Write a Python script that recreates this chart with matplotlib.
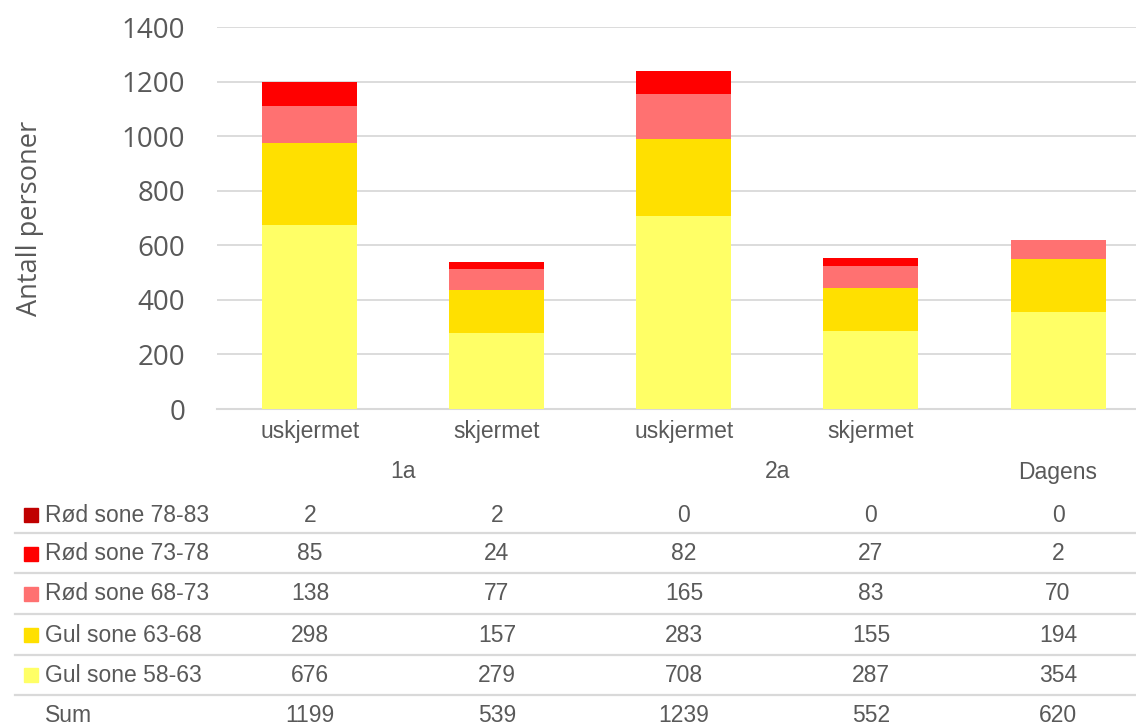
import matplotlib
matplotlib.use("Agg")
import matplotlib.pyplot as plt
from matplotlib.transforms import blended_transform_factory
from matplotlib.lines import Line2D
from matplotlib.patches import Rectangle

# ---- data ----
sub_labels = ["uskjermet", "skjermet", "uskjermet", "skjermet", ""]
group_labels = ["1a", "2a", "Dagens"]
group_centers = [0.5, 2.5, 4.0]
series_names = ["Rød sone 78-83", "Rød sone 73-78", "Rød sone 68-73",
                "Gul sone 63-68", "Gul sone 58-63"]
red_78_83 = [2, 2, 0, 0, 0]
red_73_78 = [85, 24, 82, 27, 2]
red_68_73 = [138, 77, 165, 83, 70]
yel_63_68 = [298, 157, 283, 155, 194]
yel_58_63 = [676, 279, 708, 287, 354]
sums = [1199, 539, 1239, 552, 620]
colors = {"Rød sone 78-83": "#C00000", "Rød sone 73-78": "#FF0000",
          "Rød sone 68-73": "#FF7171", "Gul sone 63-68": "#FFE000",
          "Gul sone 58-63": "#FFFF66"}
values = {"Rød sone 78-83": red_78_83, "Rød sone 73-78": red_73_78,
          "Rød sone 68-73": red_68_73, "Gul sone 63-68": yel_63_68,
          "Gul sone 58-63": yel_58_63}

W, H = 1136, 727
fig = plt.figure(figsize=(W / 100, H / 100), dpi=100)
ax = fig.add_axes([217 / W, 1 - 409 / H, (1136 - 217) / W, (409 - 27) / H])

txt = "#595959"
tfont = "Liberation Sans"
afont = "Open Sans"
tsize = 16.5

x = list(range(len(sub_labels)))
bottom = [0] * len(x)
for name in reversed(series_names):
    v = values[name]
    ax.bar(x, v, width=0.508, bottom=bottom, color=colors[name], zorder=3)
    bottom = [b + vi for b, vi in zip(bottom, v)]

ax.set_ylim(0, 1400)
ax.set_xlim(-0.497, 4.417)
ax.set_yticks(range(0, 1401, 200))
ax.yaxis.grid(True, color="#D9D9D9", linewidth=1.3, zorder=0)
ax.set_axisbelow(True)
for s in ["top", "right", "left"]:
    ax.spines[s].set_visible(False)
ax.spines["bottom"].set_color("#D9D9D9")
ax.spines["bottom"].set_linewidth(1.5)
ax.tick_params(axis="y", length=0, pad=23, labelsize=20, labelcolor=txt)
for lab in ax.get_yticklabels():
    lab.set_fontfamily(afont)
ax.set_xticks(x)
ax.set_xticklabels(sub_labels, fontsize=tsize, color=txt, fontfamily=tfont)
ax.tick_params(axis="x", length=0, pad=8)
ax.set_ylabel("Antall personer", fontsize=19.5, color=txt, fontfamily=afont,
              labelpad=0)
ax.yaxis.set_label_coords((44 - 217) / (1136 - 217), 0.5)

tr = blended_transform_factory(ax.transData, fig.transFigure)

# group labels
for g, c in zip(group_labels, group_centers):
    ax.text(c, 1 - 472 / H, g, transform=tr, ha="center", va="center",
            fontsize=tsize, color=txt, fontfamily=tfont)

# data table
row_y = [515, 554, 594, 635, 675, 715]
line_y = [533, 573, 614, 655, 695]
for ly in line_y:
    fig.add_artist(Line2D([15 / W, 1], [1 - ly / H] * 2, color="#D9D9D9",
                          linewidth=1.6, transform=fig.transFigure))

rows = series_names + ["Sum"]
for ry, name in zip(row_y, rows):
    yf = 1 - ry / H
    if name in colors:
        fig.add_artist(Rectangle((24 / W, yf - 7 / H), 14 / W, 14 / H,
                                 color=colors[name], transform=fig.transFigure))
        vals = values[name]
    else:
        vals = sums
    fig.text(45 / W, yf, name, ha="left", va="center", fontsize=tsize,
             color=txt, fontfamily=tfont)
    for xi, v in zip(x, vals):
        ax.text(xi, yf, str(v), transform=tr, ha="center", va="center",
                fontsize=tsize, color=txt, fontfamily=tfont)

fig.savefig("out.png", dpi=100)
